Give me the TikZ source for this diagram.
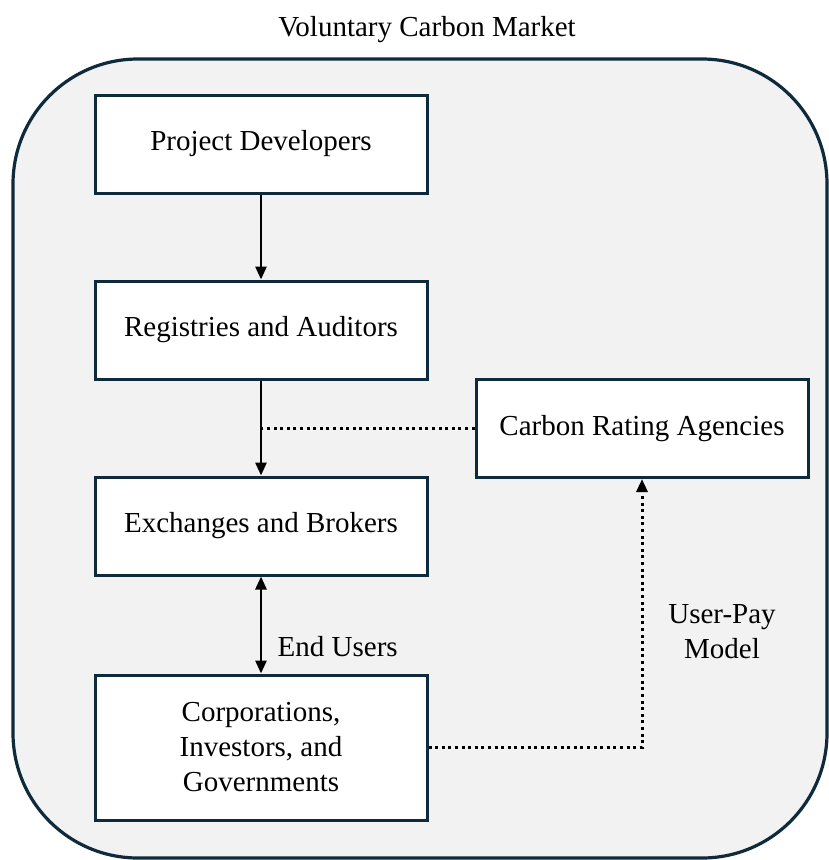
\documentclass[tikz,border=0pt]{standalone}
\usepackage{fontspec}
\setmainfont{Liberation Serif}
\usetikzlibrary{arrows.meta}
\definecolor{boxline}{HTML}{0E2A3B}
\definecolor{marketfill}{HTML}{F2F2F2}
\tikzset{
  actor/.style={draw=boxline, line width=3pt, fill=white, minimum width=332pt,
    minimum height=98pt, align=center, font=\fontsize{29}{35}\selectfont},
  flow/.style={line width=2.8pt, -{Triangle[length=13pt,width=11pt]}},
  link/.style={line width=3pt, dash pattern=on 3pt off 3.6pt},
  caption/.style={align=center, font=\fontsize{29}{35}\selectfont}
}
\begin{document}
\begin{tikzpicture}[x=1pt,y=-1pt]
\useasboundingbox (0,0) rectangle (828,860);

% Mercado
\draw[boxline, fill=marketfill, line width=3.2pt, rounded corners=125pt] (13,59) rectangle (827,858);
\node[caption] (market) at (427,30) {Voluntary Carbon Market};

% Actores
\node[actor] (dev) at (261,144) {Project Developers};
\node[actor] (reg) at (261,330) {Registries and Auditors};
\node[actor] (exch) at (261,526) {Exchanges and Brokers};
\node[actor, minimum height=145pt] (corp) at (261,747.5) {Corporations,\\Investors, and\\Governments};
\node[actor] (rating) at (642,428.5) {Carbon Rating Agencies};

% Flujo principal
\draw[flow] (dev.south) -- (reg.north);
\draw[flow] (reg.south) -- (exch.north);
\draw[flow, {Triangle[length=13pt,width=11pt]}-{Triangle[length=13pt,width=11pt]}] (exch.south) -- (corp.north)
  node[caption, pos=0.72, right=12pt] (endusers) {End Users};

% Calificadoras
\draw[link] (rating.west) -- (rating.west -| reg.south);
\draw[link, -{Triangle[length=13pt,width=11pt]}] (corp.east) -| (rating.south);
\node[caption] (userpay) at (722,632) {User-Pay\\Model};

\end{tikzpicture}
\end{document}
